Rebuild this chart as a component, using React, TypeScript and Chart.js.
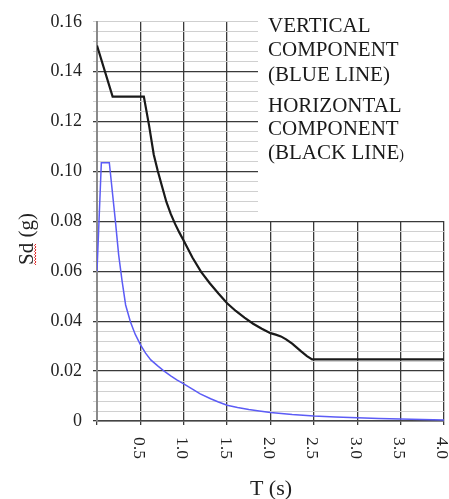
import React, { useEffect, useRef } from "react";
import { Chart, registerables } from "chart.js";

Chart.register(...registerables);

// Horizontal component (black line)
const blackT = [0, 0.18, 0.54, 0.6, 0.654, 0.7, 0.75, 0.8, 0.85, 0.9, 0.95, 1.0, 1.1, 1.2, 1.3, 1.4, 1.5, 1.6, 1.7, 1.8, 1.9, 2.0, 2.06, 2.12, 2.18, 2.25, 2.3, 2.35, 2.42, 2.48, 3.0, 3.5, 4.0];
const blackSd = [0.1505, 0.13, 0.13, 0.1185, 0.1068, 0.1003, 0.094, 0.0878, 0.083, 0.079, 0.0755, 0.0722, 0.0655, 0.0598, 0.0552, 0.0511, 0.0472, 0.0441, 0.0414, 0.039, 0.037, 0.0352, 0.0346, 0.0339, 0.0327, 0.031, 0.0295, 0.028, 0.026, 0.0247, 0.0247, 0.0247, 0.0247];

// Vertical component (blue line)
const blueT = [0, 0.05, 0.142, 0.211, 0.25, 0.289, 0.33, 0.385, 0.44, 0.5, 0.56, 0.62, 0.7, 0.77, 0.85, 0.92, 1.0, 1.1, 1.19, 1.31, 1.4, 1.5, 1.62, 1.75, 1.87, 2.0, 2.25, 2.5, 2.75, 3.0, 3.25, 3.5, 3.75, 4.0];
const blueSd = [0.06, 0.1035, 0.1035, 0.0805, 0.0665, 0.0562, 0.0465, 0.0398, 0.0348, 0.0306, 0.0272, 0.0245, 0.0221, 0.0201, 0.0181, 0.0165, 0.0149, 0.0128, 0.0109, 0.0089, 0.0076, 0.0063, 0.0054, 0.0046, 0.004, 0.0034, 0.0026, 0.002, 0.0016, 0.0013, 0.001, 0.0008, 0.0006, 0.0004];

const xTickValues = [0.5, 1.0, 1.5, 2.0, 2.5, 3.0, 3.5, 4.0];
const xTickLabels = ["0.5", "1.0", "1.5", "2.0", "2.5", "3.0", "3.5", "4.0"];
const yTickLabels = ["0", "0.02", "0.04", "0.06", "0.08", "0.10", "0.12", "0.14", "0.16"];

const legendLines = ["VERTICAL", "COMPONENT", "(BLUE LINE)", "HORIZONTAL", "COMPONENT", "(BLACK LINE"];
const xTitle = "T (s)";
const yTitle = "Sd (g)";

const SERIF = '"Liberation Serif", "Times New Roman", serif';

const isMajor = (v: number) => Math.abs(v * 50 - Math.round(v * 50)) < 1e-6;

const overlay = {
  id: "overlay",
  afterDraw(chart: any) {
    const ctx = chart.ctx as CanvasRenderingContext2D;
    const xs = chart.scales.x;
    ctx.save();
    // rotated x tick labels (reading top to bottom)
    ctx.font = `17.5px ${SERIF}`;
    ctx.fillStyle = "#222";
    ctx.textAlign = "left";
    ctx.textBaseline = "middle";
    xTickValues.forEach((v, i) => {
      const px = xs.getPixelForValue(v);
      ctx.save();
      ctx.translate(px - 2, 437);
      ctx.rotate(Math.PI / 2);
      ctx.fillText(xTickLabels[i], 0, 0);
      ctx.restore();
    });

    // x title
    ctx.font = `22px ${SERIF}`;
    ctx.textAlign = "center";
    ctx.textBaseline = "alphabetic";
    ctx.fillStyle = "#222";
    ctx.fillText(xTitle, 271, 495);

    // y title
    ctx.save();
    ctx.translate(27, 239);
    ctx.rotate(-Math.PI / 2);
    ctx.font = `21px ${SERIF}`;
    ctx.textAlign = "center";
    ctx.textBaseline = "middle";
    ctx.fillText(yTitle, 0, 0);
    const full = ctx.measureText(yTitle).width;
    const sd = ctx.measureText("Sd").width;
    // red wavy underline under "Sd"
    ctx.strokeStyle = "#e02020";
    ctx.lineWidth = 1;
    ctx.beginPath();
    const x0 = -full / 2;
    const x1 = -full / 2 + sd;
    let up = true;
    ctx.moveTo(x0, 9);
    for (let x = x0 + 1.5; x <= x1; x += 1.5) {
      ctx.lineTo(x, up ? 7.5 : 9);
      up = !up;
    }
    ctx.stroke();
    ctx.restore();

    // legend box
    ctx.fillStyle = "#ffffff";
    ctx.fillRect(258, 0, 449 - 258, 221);
    ctx.fillStyle = "#1a1a1a";
    ctx.font = `21px ${SERIF}`;
    ctx.textAlign = "left";
    ctx.textBaseline = "alphabetic";
    const baselines = [31.7, 56, 80.7, 111.7, 135, 159.4];
    legendLines.forEach((t, i) => {
      ctx.fillText(t, 268, baselines[i]);
    });
    const w = ctx.measureText(legendLines[5]).width;
    ctx.font = `14px ${SERIF}`;
    ctx.fillText(")", 268 + w, baselines[5]);
    ctx.restore();
  },
};

export default function App() {
  const ref = useRef<HTMLCanvasElement>(null);
  useEffect(() => {
    if (!ref.current) return;
    const chart = new Chart(ref.current, {
      type: "line",
      data: {
        datasets: [
          {
            label: "Horizontal",
            data: blackT.map((t, i) => ({ x: t, y: blackSd[i] })),
            borderColor: "#1a1a1a",
            borderWidth: 2.2,
            pointRadius: 0,
            tension: 0,
            fill: false,
          },
          {
            label: "Vertical",
            data: blueT.map((t, i) => ({ x: t, y: blueSd[i] })),
            borderColor: "#5c5cf6",
            borderWidth: 1.5,
            pointRadius: 0,
            tension: 0,
            fill: false,
          },
        ],
      },
      options: {
        responsive: false,
        animation: false,
        devicePixelRatio: 1,
        layout: { padding: { top: 14, right: 5, left: 0, bottom: 0 } },
        plugins: { legend: { display: false }, tooltip: { enabled: false }, title: { display: false } },
        scales: {
          x: {
            type: "linear",
            min: 0,
            max: 4,
            afterFit: (s: any) => {
              s.height = 78;
            },
            ticks: { display: false, stepSize: 0.5 },
            grid: {
              color: "#3a3a3a",
              lineWidth: 1.3,
              tickLength: 4,
            },
            border: { color: "#444", width: 1.5 },
          },
          y: {
            min: 0,
            max: 0.16,
            afterFit: (s: any) => {
              s.width = 97;
            },
            ticks: {
              stepSize: 0.004,
              autoSkip: false,
              padding: 11,
              color: "#222",
              font: { family: SERIF, size: 18 },
              callback: (v: any) => {
                const n = Number(v);
                if (!isMajor(n)) return "";
                const idx = Math.round(n * 50);
                return yTickLabels[idx] ?? "";
              },
            },
            grid: {
              tickLength: 4,
              color: (c: any) => {
                const v = c.tick ? c.tick.value : 0;
                if (Math.abs(v - 0.16) < 1e-6) return "#cfcfcf";
                return isMajor(v) ? "#3a3a3a" : "#d0d0d0";
              },
              lineWidth: (c: any) => {
                const v = c.tick ? c.tick.value : 0;
                return isMajor(v) && Math.abs(v - 0.16) > 1e-6 ? 1.3 : 1;
              },
            },
            border: { color: "#8a8a8a", width: 2 },
          },
        },
      },
      plugins: [overlay],
    } as any);
    return () => chart.destroy();
  }, []);
  return (
    <div style={{ position: "absolute", left: 0, top: 0, width: 449, height: 499, background: "#fff" }}>
      <canvas ref={ref} width={449} height={499} style={{ display: "block" }} />
    </div>
  );
}
